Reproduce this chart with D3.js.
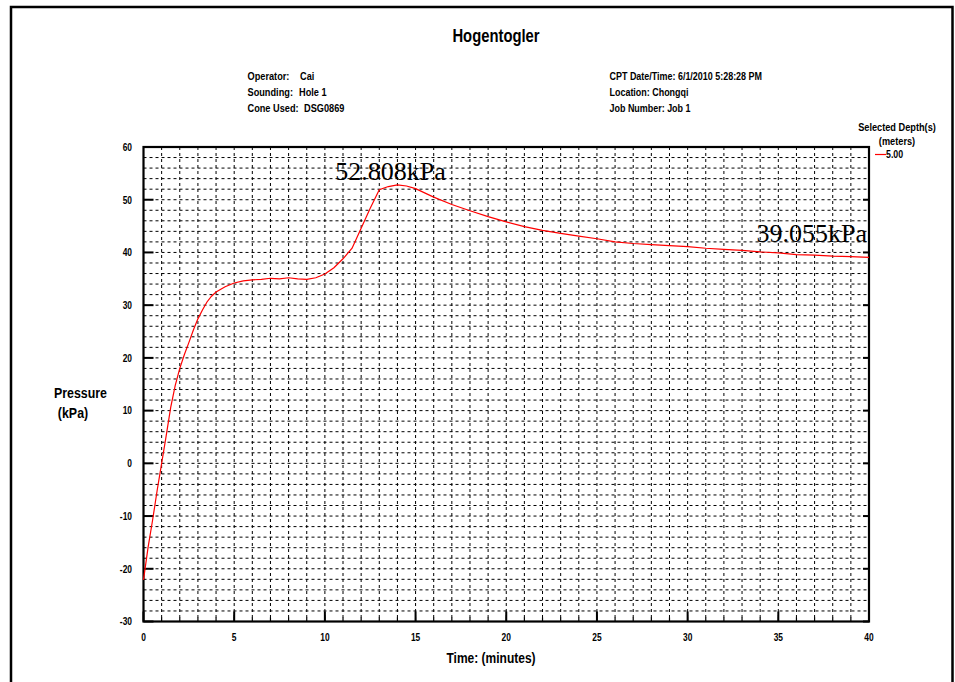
<!DOCTYPE html>
<html>
<head>
<meta charset="utf-8">
<script src="https://cdn.jsdelivr.net/npm/d3@7"></script>
<style>
  html, body { margin: 0; padding: 0; background: #fff; }
  svg { display: block; }
  .nar { font-family: "Liberation Sans", Arial, sans-serif; font-weight: bold; fill: #000; }
  .serif { font-family: "Liberation Serif", "Times New Roman", serif; fill: #000; }
</style>
</head>
<body>
<script>
// Pore-pressure dissipation record, depth 5.00 m
const timeMin = [0, 0.25, 0.5, 0.75, 1.0, 1.25, 1.5, 1.75, 2.0, 2.25, 2.5, 2.75, 3.0, 3.25, 3.5, 3.75, 4.0, 4.5, 5.0, 5.5, 6.0, 6.5, 7.0, 7.5, 8.0, 8.5, 9.0, 9.5, 10.0, 10.5, 11.0, 11.5, 12.0, 12.5, 13.0, 13.5, 14.0, 14.5, 15.0, 16, 17, 18, 19, 20, 21, 22, 23, 24, 25, 26, 27, 28, 29, 30, 31, 32, 33, 34, 35, 36, 37, 38, 39, 40];
const pressureKPa = [-22.1, -16.0, -10.8, -5.2, 0.0, 5.2, 10.6, 14.8, 18.0, 20.6, 22.9, 25.3, 27.4, 29.1, 30.6, 31.7, 32.5, 33.5, 34.2, 34.6, 34.8, 34.9, 35.1, 35.0, 35.2, 35.0, 34.9, 35.2, 35.9, 37.1, 38.8, 40.8, 44.6, 48.4, 51.9, 52.5, 52.808, 52.6, 52.1, 50.5, 49.1, 47.9, 46.8, 45.8, 44.9, 44.2, 43.6, 43.1, 42.6, 42.0, 41.7, 41.5, 41.3, 41.1, 40.8, 40.6, 40.4, 40.1, 39.9, 39.6, 39.5, 39.3, 39.2, 39.055];

const xTicks = [0, 5, 10, 15, 20, 25, 30, 35, 40];
const yTicks = [-30, -20, -10, 0, 10, 20, 30, 40, 50, 60];

const headerLeft = [["Operator:", "Cai"], ["Sounding:", "Hole 1"], ["Cone Used:", "DSG0869"]];
const headerRight = ["CPT Date/Time: 6/1/2010 5:28:28 PM", "Location: Chongqi", "Job Number: Job 1"];

const peakIndex = 36;                       // 14 min
const endIndex = pressureKPa.length - 1;    // 40 min

const W = 955, H = 682;
const plot = { left: 143.5, right: 869, top: 147, bottom: 621.5 };
const NARROW = 0.8;   // condensed look for the report typeface

const svg = d3.select("body").append("svg").attr("width", W).attr("height", H);

// condensed bold text, squeezed horizontally about its own anchor
function ntext(parent, px, py, size, txt, anchor) {
  return parent.append("text").attr("class", "nar")
    .attr("transform", `translate(${px},${py}) scale(${NARROW},1)`)
    .attr("text-anchor", anchor || "start")
    .attr("font-size", size).text(txt);
}

// outer frame (open at the bottom)
svg.append("path")
  .attr("d", `M11,${H + 5} V7 H952.5 V${H + 5}`)
  .attr("fill", "none").attr("stroke", "#000").attr("stroke-width", 2.5);

const x = d3.scaleLinear().domain([0, 40]).range([plot.left, plot.right]);
const y = d3.scaleLinear().domain([-30, 60]).range([plot.bottom, plot.top]);

// title and header
ntext(svg, 496, 42, 18.5, "Hogentogler", "middle");

const valueX = [300, 299, 304];
headerLeft.forEach((r, i) => {
  ntext(svg, 247.5, 79.5 + i * 16, 11.5, r[0]);
  ntext(svg, valueX[i], 79.5 + i * 16, 11.5, r[1]);
});
headerRight.forEach((t, i) => {
  ntext(svg, 609.5, 79.5 + i * 16, 11.2, t);
});

// grid: one line per minute and per 2 kPa
const g = svg.append("g");
g.selectAll("line.vg").data(d3.range(1, 40)).join("line")
  .attr("x1", d => x(d)).attr("x2", d => x(d))
  .attr("y1", plot.top).attr("y2", plot.bottom)
  .attr("stroke", "#000").attr("stroke-width", 1).attr("stroke-dasharray", "3,3");
g.selectAll("line.hg").data(d3.range(-28, 60, 2)).join("line")
  .attr("y1", d => y(d)).attr("y2", d => y(d))
  .attr("x1", plot.left).attr("x2", plot.right)
  .attr("stroke", "#000").attr("stroke-width", 1).attr("stroke-dasharray", "3,3");

// inward ticks
const tk = svg.append("g").attr("stroke", "#000");
tk.selectAll("line.xmin").data(d3.range(1, 40)).join("line")
  .attr("x1", d => x(d)).attr("x2", d => x(d))
  .attr("y1", plot.bottom).attr("y2", plot.bottom - 4).attr("stroke-width", 1.2);
tk.selectAll("line.xmaj").data(xTicks).join("line")
  .attr("x1", d => x(d)).attr("x2", d => x(d))
  .attr("y1", plot.bottom).attr("y2", plot.bottom - 10).attr("stroke-width", 2);
tk.selectAll("line.ymajL").data(yTicks).join("line")
  .attr("y1", d => y(d)).attr("y2", d => y(d))
  .attr("x1", plot.left).attr("x2", plot.left + 10).attr("stroke-width", 2);
tk.selectAll("line.ymajR").data(yTicks).join("line")
  .attr("y1", d => y(d)).attr("y2", d => y(d))
  .attr("x1", plot.right).attr("x2", plot.right - 6).attr("stroke-width", 2);

// plot border
svg.append("rect").attr("x", plot.left).attr("y", plot.top)
  .attr("width", plot.right - plot.left).attr("height", plot.bottom - plot.top)
  .attr("fill", "none").attr("stroke", "#000").attr("stroke-width", 2.2);

// tick labels
yTicks.forEach(d => ntext(svg, 132, y(d) + 3.8, 10.5, d, "end"));
xTicks.forEach(d => ntext(svg, x(d), 640.5, 10.5, d, "middle"));

// axis titles
ntext(svg, 80.5, 398, 15.5, "Pressure", "middle");
ntext(svg, 73, 418, 15.5, "(kPa)", "middle");
ntext(svg, 491, 663, 15, "Time: (minutes)", "middle");

// legend
ntext(svg, 897, 130.5, 11.5, "Selected Depth(s)", "middle");
ntext(svg, 897, 145, 11.5, "(meters)", "middle");
svg.append("line").attr("x1", 875).attr("x2", 886).attr("y1", 154.5).attr("y2", 154.5)
  .attr("stroke", "#ff0000").attr("stroke-width", 1.2);
ntext(svg, 886, 158, 11, "5.00");

// pressure curve
const data = timeMin.map((t, i) => ({ t, p: pressureKPa[i] }));
const line = d3.line().x(d => x(d.t)).y(d => y(d.p));
svg.append("path").datum(data).attr("d", line)
  .attr("fill", "none").attr("stroke", "#ff0000").attr("stroke-width", 1.2);

// value annotations
svg.append("text").attr("class", "serif").attr("x", x(timeMin[peakIndex]) - 7).attr("y", 180)
  .attr("text-anchor", "middle").attr("font-size", 26)
  .text(pressureKPa[peakIndex].toFixed(3) + "kPa");
svg.append("text").attr("class", "serif").attr("x", x(timeMin[endIndex]) - 2).attr("y", 242)
  .attr("text-anchor", "end").attr("font-size", 26)
  .text(pressureKPa[endIndex].toFixed(3) + "kPa");
</script>
</body>
</html>
